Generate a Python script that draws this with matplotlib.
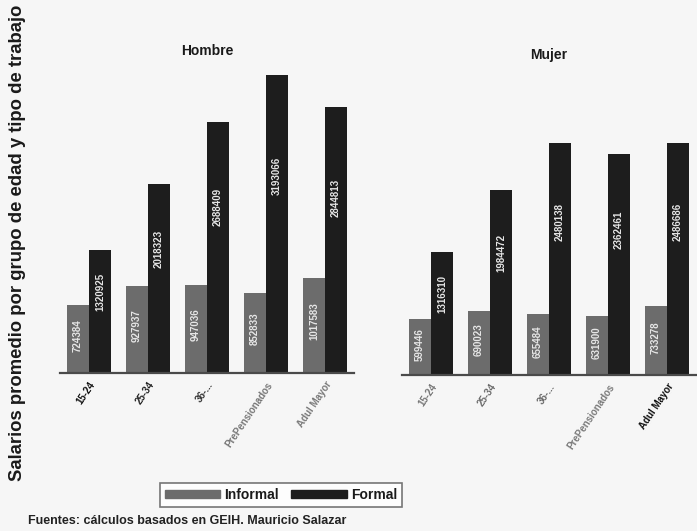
import matplotlib
matplotlib.use("Agg")
import matplotlib.pyplot as plt
from matplotlib.patches import Patch
import numpy as np

plt.rcParams['font.family'] = ['Liberation Sans', 'DejaVu Sans']

# Average wage by age group and job type
categories = ["15-24", "25-34", "36-...", "PrePensionados", "Adul Mayor"]
hombre_informal = [724384, 927937, 947036, 852833, 1017583]
hombre_formal = [1320925, 2018323, 2688409, 3193066, 2844813]
mujer_informal = [599446, 690023, 655484, 631900, 733278]
mujer_formal = [1316310, 1984472, 2480138, 2362461, 2486686]

C_INF = "#6c6c6c"
C_FOR = "#1d1d1d"
BG = "#f6f6f6"

W, H = 697, 531
fig = plt.figure(figsize=(W / 100, H / 100), dpi=100, facecolor=BG)


def px_axes(x0, x1, y_base, height):
    return fig.add_axes([x0 / W, (H - y_base) / H, (x1 - x0) / W, height / H])


def panel(ax, title, informal, formal, tick_colors, title_y):
    ax.set_facecolor("none")
    x = np.arange(len(categories))
    bw = 0.373
    b1 = ax.bar(x - bw / 2, informal, bw, color=C_INF)
    b2 = ax.bar(x + bw / 2, formal, bw, color=C_FOR)
    for rect, v in zip(b1, informal):
        ax.text(rect.get_x() + rect.get_width() / 2, v * 0.55, f"{v}",
                rotation=90, ha="center", va="center", fontsize=7,
                fontweight="bold", color="#e6e6e6")
    for rect, v in zip(b2, formal):
        ax.text(rect.get_x() + rect.get_width() / 2, v * 0.66, f"{v}",
                rotation=90, ha="center", va="center", fontsize=7,
                fontweight="bold", color="#e6e6e6")
    ax.set_xlim(-0.5, len(categories) - 0.5)
    ax.set_ylim(0, 3.5e6)
    ax.set_yticks([])
    ax.set_xticks(x)
    ax.set_xticklabels(categories, rotation=56, ha="right",
                       rotation_mode="anchor", fontsize=7, fontweight="bold")
    for lab, c in zip(ax.get_xticklabels(), tick_colors):
        lab.set_color(c)
    ax.tick_params(axis="x", length=0, pad=5)
    for s in ("top", "right", "left"):
        ax.spines[s].set_visible(False)
    ax.spines["bottom"].set_color("#4a4a4a")
    ax.spines["bottom"].set_linewidth(1.6)
    ax.text(0.5, title_y, title, transform=ax.transAxes, ha="center",
            va="center", fontsize=10, fontweight="bold", color="#1a1a1a")


ax1 = px_axes(59.5, 354.5, 373, 327)
panel(ax1, "Hombre", hombre_informal, hombre_formal,
      ["#111111", "#222222", "#333333", "#777777", "#7a7a7a"], 0.985)

ax2 = px_axes(401.5, 696.5, 375, 327)
panel(ax2, "Mujer", mujer_informal, mujer_formal,
      ["#777777", "#6a6a6a", "#666666", "#7a7a7a", "#111111"], 0.978)

fig.text(18 / W, 1 - 243 / H,
         "Salarios promedio por grupo de edad y tipo de trabajo",
         rotation=90, ha="center", va="center", fontsize=13.3,
         fontweight="bold", color="#1a1a1a")

handles = [Patch(facecolor=C_INF, edgecolor=C_INF, label="Informal"),
           Patch(facecolor=C_FOR, edgecolor=C_FOR, label="Formal")]
leg = fig.legend(handles=handles, loc="center", ncol=2,
                 bbox_to_anchor=(281 / W, 1 - 495 / H),
                 fontsize=10, frameon=True, fancybox=False,
                 handlelength=4.0, handleheight=0.55, handletextpad=0.3,
                 columnspacing=0.9, borderpad=0.35, borderaxespad=0)
leg.get_frame().set_edgecolor("#555555")
leg.get_frame().set_linewidth(1.2)
leg.get_frame().set_facecolor("white")
for t in leg.get_texts():
    t.set_fontweight("bold")
    t.set_color("#1a1a1a")

fig.text(28 / W, 1 - 521 / H,
         "Fuentes: cálculos basados en GEIH. Mauricio Salazar",
         ha="left", va="center", fontsize=9, fontweight="bold",
         color="#222222")

fig.savefig("out.png", dpi=100, facecolor=BG)
